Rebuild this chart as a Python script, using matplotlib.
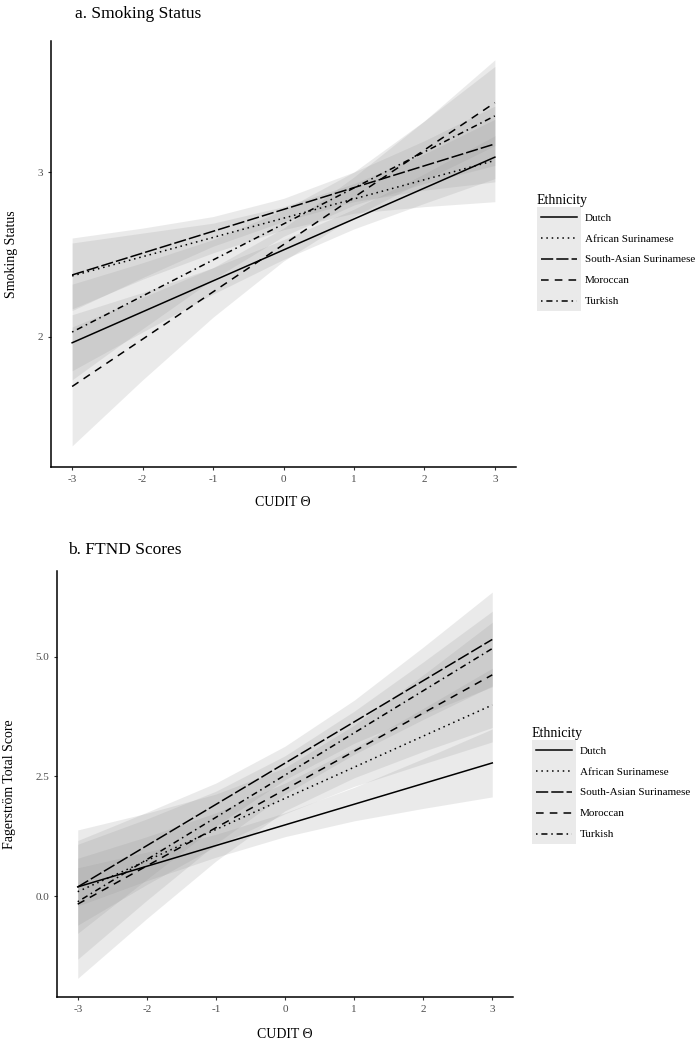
import matplotlib
matplotlib.use("Agg")
from matplotlib import pyplot as plt
from matplotlib.lines import Line2D
from matplotlib.patches import Rectangle

plt.rcParams['font.family'] = ['Liberation Serif', 'DejaVu Serif']
plt.rcParams['axes.unicode_minus'] = False

#Groups and line styles (ggplot linetypes)
groups = ["Dutch", "African Surinamese", "South-Asian Surinamese", "Moroccan", "Turkish"]
styles = ['-', (0, (1, 2.5)), (0, (8, 2)), (0, (5, 4)), (0, (1, 2.5, 4, 2.5))]

#Fitted lines, value at CUDIT = -3 and CUDIT = 3
x_ends = [-3, 3]
smoke_start = [1.965, 2.37, 2.376, 1.70, 2.03]
smoke_end = [3.09, 3.07, 3.17, 3.42, 3.34]
ftnd_start = [0.19, 0.09, 0.19, -0.17, -0.12]
ftnd_end = [2.78, 3.99, 5.36, 4.62, 5.17]

#Confidence bands read at these points
xs = [-3, -2, -1, 0, 1, 2, 3]
smoke_lower = [
    [1.795, 2.03, 2.26, 2.47, 2.655, 2.81, 2.96],
    [2.17, 2.35, 2.51, 2.65, 2.75, 2.79, 2.82],
    [2.16, 2.36, 2.55, 2.70, 2.82, 2.89, 2.94],
    [1.34, 1.74, 2.12, 2.46, 2.73, 2.95, 3.16],
    [1.74, 2.05, 2.35, 2.61, 2.80, 2.93, 3.04],
]
smoke_upper = [
    [2.135, 2.27, 2.42, 2.59, 2.775, 2.99, 3.22],
    [2.57, 2.63, 2.69, 2.79, 2.93, 3.11, 3.32],
    [2.60, 2.66, 2.73, 2.84, 3.00, 3.19, 3.40],
    [2.06, 2.24, 2.42, 2.66, 2.97, 3.31, 3.68],
    [2.32, 2.45, 2.59, 2.77, 3.00, 3.31, 3.64],
]
ftnd_lower = [
    [-0.21, 0.32, 0.81, 1.24, 1.57, 1.83, 2.07],
    [-0.61, 0.24, 1.04, 1.72, 2.29, 2.76, 3.22],
    [-0.78, 0.35, 1.46, 2.43, 3.19, 3.80, 4.37],
    [-1.72, -0.47, 0.73, 1.78, 2.47, 3.02, 3.52],
    [-1.32, -0.09, 1.09, 2.13, 2.96, 3.69, 4.39],
]
ftnd_upper = [
    [0.59, 0.92, 1.29, 1.74, 2.27, 2.87, 3.49],
    [0.79, 1.24, 1.74, 2.36, 3.09, 3.92, 4.76],
    [1.16, 1.75, 2.36, 3.13, 4.09, 5.20, 6.35],
    [1.38, 1.73, 2.13, 2.68, 3.57, 4.62, 5.72],
    [1.08, 1.61, 2.19, 2.93, 3.86, 4.89, 5.95],
]

x_ticks = [-3, -2, -1, 0, 1, 2, 3]
smoke_ticks = [2, 3]
smoke_ticklabels = ['2', '3']
ftnd_ticks = [0, 2.5, 5]
ftnd_ticklabels = ['0.0', '2.5', '5.0']

band_col = '#999999'
W, H = 698, 1050


#Legend key: grey ribbon fill with the line centred on it (like ggplot keys)
class KeyLine(Line2D):
    def __init__(self, ls):
        super().__init__([], [], color='black', lw=1.1, linestyle=ls)
        self.ls_spec = ls


class KeyHandler:
    def legend_artist(self, legend, orig_handle, fontsize, handlebox):
        x0, y0 = handlebox.xdescent, handlebox.ydescent
        w, h = handlebox.width, handlebox.height
        tr = handlebox.get_transform()
        patch = Rectangle((-x0, -y0), w, h, fc=band_col, alpha=0.2, lw=0, transform=tr)
        yc = h / 2 - y0
        line = Line2D([-x0 + 3, -x0 + w - 3], [yc, yc], color='black', lw=1.1,
                      linestyle=orig_handle.ls_spec, transform=tr)
        handlebox.add_artist(patch)
        handlebox.add_artist(line)
        return patch


def draw_panel(ax, start, end, lower, upper, ylim, yticks, yticklabels):
    for i in range(len(groups)):
        ax.fill_between(xs, lower[i], upper[i], color=band_col, alpha=0.2, lw=0)
    for i in range(len(groups)):
        ax.plot(x_ends, [start[i], end[i]], color='black', lw=1.1, linestyle=styles[i])
    ax.set_xlim(-3.3, 3.3)
    ax.set_ylim(*ylim)
    ax.set_xticks(x_ticks)
    ax.set_xticklabels([str(t) for t in x_ticks])
    ax.set_yticks(yticks)
    ax.set_yticklabels(yticklabels)
    for s in ['top', 'right']:
        ax.spines[s].set_visible(False)
    for s in ['left', 'bottom']:
        ax.spines[s].set_linewidth(1.1)
    ax.tick_params(length=2.5, width=0.8, color='#333333', labelcolor='#4d4d4d',
                   labelsize=8, pad=3)


def add_legend(x, y):
    handles = [KeyLine(st) for st in styles]
    leg = fig.legend(handles, groups, loc='upper left', bbox_to_anchor=(x / W, 1 - y / H),
                     frameon=False, fontsize=8, title='Ethnicity', title_fontsize=10,
                     handlelength=4.0, handleheight=2.5, labelspacing=0,
                     handletextpad=0.3, borderpad=0, borderaxespad=0, alignment='left',
                     handler_map={KeyLine: KeyHandler()})
    return leg


fig = plt.figure(figsize=(W / 100, H / 100), dpi=100)

ax1 = fig.add_axes([51 / W, 1 - 467 / H, 465 / W, 426 / H])
draw_panel(ax1, smoke_start, smoke_end, smoke_lower, smoke_upper,
           (1.212, 3.794), smoke_ticks, smoke_ticklabels)

ax2 = fig.add_axes([57 / W, 1 - 997 / H, 456 / W, 426 / H])
draw_panel(ax2, ftnd_start, ftnd_end, ftnd_lower, ftnd_upper,
           (-2.11, 6.79), ftnd_ticks, ftnd_ticklabels)

#Titles and axis labels
fig.text(75 / W, 1 - 14 / H, 'a. Smoking Status', fontsize=12.5, ha='left', va='center')
fig.text(68 / W, 1 - 550 / H, 'b. FTND Scores', fontsize=12.5, ha='left', va='center')
fig.text(12 / W, 1 - 254 / H, 'Smoking Status', rotation=90, fontsize=10, ha='center', va='center')
fig.text(10 / W, 1 - 784 / H, 'Fagerström Total Score', rotation=90, fontsize=10, ha='center', va='center')
fig.text(283 / W, 1 - 503 / H, 'CUDIT Θ', fontsize=10, ha='center', va='center')
fig.text(285 / W, 1 - 1035 / H, 'CUDIT Θ', fontsize=10, ha='center', va='center')

add_legend(537, 194)
add_legend(532, 727)

fig.savefig('out.png', dpi=100)
